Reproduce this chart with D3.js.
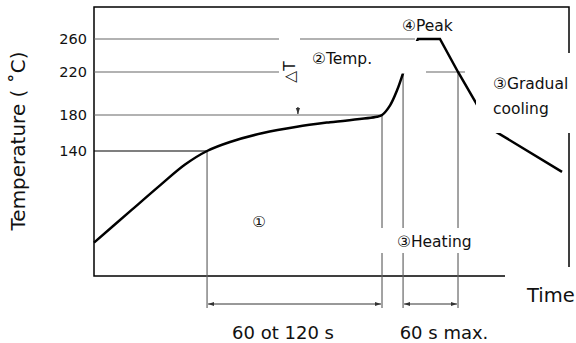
<!DOCTYPE html>
<html>
<head>
<meta charset="utf-8">
<script src="https://cdn.jsdelivr.net/npm/d3@7"></script>
<style>
  body { margin: 0; background: #fff; }
  text { font-family: "DejaVu Sans", "Noto Sans CJK JP", sans-serif; fill: #111; }
</style>
</head>
<body>
<div id="chart"></div>
<script>
// schematic reflow profile (time in s, temperature in °C)
// preheat + heating part (smooth)
const rampTime = [0, 22.7, 41.7, 57.5, 71.4, 85.9, 106.7, 128.2, 149.1, 178.7, 181.9, 187.0, 191.4, 195.2];
const rampTemp = [52, 82, 107, 127, 140, 150, 160, 167, 172, 178, 180, 189, 203, 219];
// peak + cooling part (straight segments)
const peakTime = [195.2, 204.6, 218.5, 229.9, 240.6, 250.4, 295.6];
const peakTemp = [219, 260, 260, 220, 193, 165, 120];

// tick labels and how far each reference line runs to the right
const tempTicks = [140, 180, 220, 260];
const gridEnds = [71.4, 181.9, 234.3, 202.7];

// vertical marker lines: time and the temperature they start at
const markerTimes = [71.4, 181.9, 195.2, 229.9];
const markerTemps = [140, 180, 219, 220];

// duration spans under the axis
const spanStart = [71.4, 195.2];
const spanEnd = [181.9, 229.9];
const spanLabels = ["60 ot 120 s", "60 s max."];

const deltaTTime = 128.8;

const width = 576, height = 343;

const svg = d3.select("#chart")
  .append("svg")
  .attr("width", width)
  .attr("height", height);

svg.append("defs").append("marker")
  .attr("id", "arr")
  .attr("viewBox", "0 0 10 10")
  .attr("refX", 10).attr("refY", 5)
  .attr("markerWidth", 6).attr("markerHeight", 6)
  .attr("markerUnits", "userSpaceOnUse")
  .attr("orient", "auto-start-reverse")
  .append("path")
  .attr("d", "M0,1.5L10,5L0,8.5Z")
  .attr("fill", "#333");

// scales (the y axis of the sketch is not linear, so use a piecewise scale)
const x = d3.scaleLinear().domain([0, 300]).range([94, 569]);
const y = d3.scaleLinear()
  .domain([20, 140, 180, 220, 260, 300])
  .range([276, 151, 115, 72, 39, 7]);

// frame
svg.append("rect")
  .attr("x", x(0)).attr("y", y(300))
  .attr("width", x(300) - x(0)).attr("height", y(20) - y(300))
  .attr("fill", "none").attr("stroke", "#000").attr("stroke-width", 1.5);

// horizontal reference lines
svg.selectAll(".grid")
  .data(tempTicks)
  .join("line")
  .attr("class", "grid")
  .attr("x1", x(0))
  .attr("x2", (d, i) => x(gridEnds[i]))
  .attr("y1", d => y(d)).attr("y2", d => y(d))
  .attr("stroke", d => d === 140 ? "#000" : "#666")
  .attr("stroke-width", 1.2);

// vertical marker lines
svg.selectAll(".vline")
  .data(markerTimes)
  .join("line")
  .attr("class", "vline")
  .attr("x1", d => x(d)).attr("x2", d => x(d))
  .attr("y1", (d, i) => y(markerTemps[i]))
  .attr("y2", 308)
  .attr("stroke", "#666")
  .attr("stroke-width", 1.2);

// span arrows
svg.selectAll(".span")
  .data(spanStart)
  .join("line")
  .attr("class", "span")
  .attr("x1", d => x(d) + 1).attr("x2", (d, i) => x(spanEnd[i]) - 1)
  .attr("y1", 304).attr("y2", 304)
  .attr("stroke", "#333").attr("stroke-width", 1)
  .attr("marker-start", "url(#arr)")
  .attr("marker-end", "url(#arr)");

svg.selectAll(".spanlabel")
  .data(spanLabels)
  .join("text")
  .attr("class", "spanlabel")
  .attr("x", (d, i) => i === 0 ? 283 : 444)
  .attr("y", 338.5)
  .attr("text-anchor", "middle")
  .style("font-size", "18px")
  .text(d => d);

// temperature profile
const ramp = d3.line()
  .x((d, i) => x(rampTime[i]))
  .y(d => y(d))
  .curve(d3.curveCatmullRom.alpha(0.5));

const peak = d3.line()
  .x((d, i) => x(peakTime[i]))
  .y(d => y(d));

svg.append("path")
  .datum(rampTemp)
  .attr("d", ramp)
  .attr("fill", "none")
  .attr("stroke", "#000")
  .attr("stroke-width", 2.5);

svg.append("path")
  .datum(peakTemp)
  .attr("d", peak)
  .attr("fill", "none")
  .attr("stroke", "#000")
  .attr("stroke-width", 2.5);

// small delta-T arrow onto the 180 line
svg.append("line")
  .attr("x1", x(deltaTTime)).attr("x2", x(deltaTTime))
  .attr("y1", y(180) - 8).attr("y2", y(180) - 1)
  .attr("stroke", "#000").attr("stroke-width", 1)
  .attr("marker-end", "url(#arr)");

// white label backgrounds that break the lines
const boxes = [
  [279, 30, 21, 70],   // delta T
  [300, 41, 126, 32.5],  // Temp.
  [476, 53, 100, 80],  // Gradual cooling
  [376, 228, 102, 25], // Heating
  [505, 267, 71, 40]   // Time
];
svg.selectAll(".box")
  .data(boxes)
  .join("rect")
  .attr("class", "box")
  .attr("x", d => d[0]).attr("y", d => d[1])
  .attr("width", d => d[2]).attr("height", d => d[3])
  .attr("fill", "#fff");

// y axis tick labels
svg.append("g")
  .attr("transform", `translate(${x(0)},0)`)
  .call(d3.axisLeft(y).tickValues(tempTicks).tickSize(0).tickPadding(7))
  .call(g => g.select(".domain").remove())
  .selectAll("text")
  .style("font-size", "14.5px")
  .style("font-family", "'DejaVu Sans', sans-serif")
  .attr("fill", "#111");

// axis titles
svg.append("text")
  .attr("transform", "translate(25,141) rotate(-90)")
  .attr("text-anchor", "middle")
  .style("font-size", "20px")
  .text("Temperature ( ˚C)");

svg.append("text")
  .attr("x", 527).attr("y", 302)
  .style("font-size", "19.5px")
  .text("Time");

// annotations
const notes = [
  ["②Temp.", 312, 64],
  ["④Peak", 402, 31],
  ["③Gradual", 493, 89],
  ["cooling", 493, 114],
  ["③Heating", 397, 247]
];
svg.selectAll(".note")
  .data(notes)
  .join("text")
  .attr("class", "note")
  .attr("x", d => d[1]).attr("y", d => d[2])
  .style("font-size", "15.5px")
  .text(d => d[0]);

svg.append("text")
  .attr("x", 259).attr("y", 227)
  .attr("text-anchor", "middle")
  .style("font-size", "15px")
  .text("①");

svg.append("text")
  .attr("transform", "translate(290,72) rotate(-90)")
  .attr("text-anchor", "middle")
  .attr("dominant-baseline", "central")
  .style("font-size", "15.5px")
  .text("△T");
</script>
</body>
</html>
